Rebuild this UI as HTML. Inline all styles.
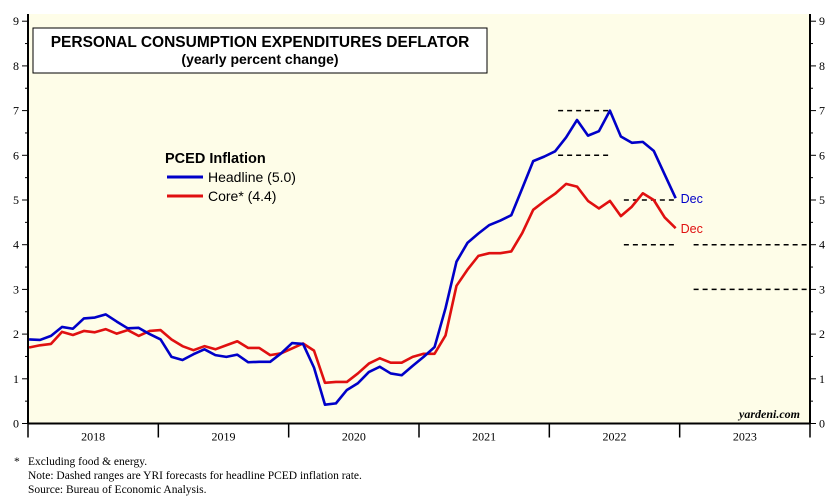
<!DOCTYPE html>
<html><head><meta charset="utf-8"><style>
body{margin:0;background:#fff;font-family:"Liberation Serif",serif}
svg{display:block}
</style></head><body>
<svg id="chart" width="837" height="504" viewBox="0 0 837 504">
<rect x="28" y="14" width="782" height="410" fill="#fefde8"/>
<g id="axes"></g>
<g id="series"></g>
<rect x="33" y="28" width="454" height="45" fill="#fff" stroke="#000" stroke-width="1"/>
<text x="260" y="47" text-anchor="middle" font-family="Liberation Sans" font-weight="bold" font-size="15.5">PERSONAL CONSUMPTION EXPENDITURES DEFLATOR</text>
<text x="260" y="64" text-anchor="middle" font-family="Liberation Sans" font-weight="bold" font-size="14">(yearly percent change)</text>
<text x="165" y="163" font-family="Liberation Sans" font-weight="bold" font-size="14.5">PCED Inflation</text>
<line x1="167" y1="177" x2="203" y2="177" stroke="#0000c8" stroke-width="3"/>
<text x="208" y="182" font-family="Liberation Sans" font-size="14">Headline (5.0)</text>
<line x1="167" y1="196" x2="203" y2="196" stroke="#e01010" stroke-width="3"/>
<text x="208" y="201" font-family="Liberation Sans" font-size="14">Core* (4.4)</text>
<text x="800" y="418" text-anchor="end" font-style="italic" font-weight="bold" font-size="12">yardeni.com</text>
<text x="14" y="465" font-size="11.5">*</text>
<text x="28" y="465" font-size="11.5">Excluding food &amp; energy.</text>
<text x="28" y="479" font-size="11.5">Note: Dashed ranges are YRI forecasts for headline PCED inflation rate.</text>
<text x="28" y="493" font-size="11.5">Source: Bureau of Economic Analysis.</text>
</svg>
<script>
const years=["2018","2019","2020","2021","2022","2023"];
const yTicks=[0,1,2,3,4,5,6,7,8,9];
const headline=[1.88,1.87,1.96,2.16,2.12,2.35,2.37,2.44,2.28,2.13,2.14,2.0,
1.88,1.49,1.42,1.55,1.66,1.53,1.49,1.54,1.37,1.38,1.38,1.57,
1.8,1.78,1.25,0.42,0.45,0.75,0.9,1.15,1.27,1.12,1.08,1.29,
1.49,1.71,2.58,3.62,4.04,4.25,4.44,4.54,4.66,5.26,5.87,5.97,
6.09,6.4,6.79,6.44,6.54,7.0,6.42,6.28,6.3,6.1,5.57,5.04];
const core=[1.70,1.75,1.78,2.05,1.98,2.07,2.04,2.11,2.01,2.09,1.96,2.07,
2.09,1.88,1.73,1.64,1.73,1.66,1.75,1.84,1.69,1.69,1.53,1.57,
1.68,1.79,1.63,0.91,0.93,0.93,1.12,1.34,1.46,1.36,1.36,1.49,
1.56,1.56,1.97,3.08,3.44,3.75,3.81,3.81,3.85,4.26,4.78,4.97,
5.14,5.36,5.3,4.98,4.81,4.98,4.64,4.85,5.15,5.0,4.61,4.37];
// forecast ranges: [startMonth, endMonth, value]
const fcStart=[48,48,54,54,60,60];
const fcEnd=[53,53,59,59,71,71];
const fcValue=[7,6,5,4,4,3];
const NS="http://www.w3.org/2000/svg";
const X0=28,X1=810,Y0=423.5,YU=44.7;
const yearW=(X1-X0)/years.length, mW=yearW/12;
const xm=i=>X0+0.1*mW+i*mW*1.009;
const xy=v=>Y0-v*YU;
function mk(t,a,p){const e=document.createElementNS(NS,t);for(const k in a)e.setAttribute(k,a[k]);p.appendChild(e);return e;}
const ax=document.getElementById('axes'),sr=document.getElementById('series');
let e=mk('line',{x1:X0,y1:14,x2:X0,y2:Y0,stroke:'#000','stroke-width':2},ax);


e=mk('line',{x1:X1,y1:14,x2:X1,y2:Y0,stroke:'#000','stroke-width':2},ax);


e=mk('line',{x1:X0,y1:Y0,x2:X1,y2:Y0,stroke:'#000','stroke-width':2},ax);


yTicks.forEach(v=>{
  const y=xy(v);
  mk('line',{x1:X0-6,y1:y,x2:X0,y2:y,stroke:'#000'},ax);
  mk('line',{x1:X1,y1:y,x2:X1+6,y2:y,stroke:'#000'},ax);
  if(v<9){mk('line',{x1:X0-3,y1:y-YU/2,x2:X0,y2:y-YU/2,stroke:'#000'},ax);mk('line',{x1:X1,y1:y-YU/2,x2:X1+3,y2:y-YU/2,stroke:'#000'},ax);}
  let t=mk('text',{x:X0-9,y:y+4,'text-anchor':'end','font-size':12},ax);t.textContent=v;
  
  
  t=mk('text',{x:X1+9,y:y+4,'font-size':12},ax);t.textContent=v;
  
  
});
for(let i=0;i<=years.length;i++){const x=X0+i*yearW;mk('line',{x1:x,y1:Y0,x2:x,y2:Y0+14,stroke:'#000','stroke-width':1.5},ax);}
years.forEach((yr,i)=>{const t=mk('text',{x:X0+(i+0.5)*yearW,y:Y0+17,'text-anchor':'middle','font-size':12},ax);t.textContent=yr;
  
  });
fcValue.forEach((v,i)=>{const off=fcStart[i]>=60?7:3;const l=mk('line',{x1:xm(fcStart[i])+off,y1:xy(v),x2:Math.min(xm(fcEnd[i])+2,X1),y2:xy(v),stroke:'#000','stroke-width':1.5,'stroke-dasharray':'5,4'},sr);
  
  });
function line(d,c,n){const p=mk('polyline',{points:d.map((v,i)=>xm(i)+','+xy(v)).join(' '),fill:'none',stroke:c,'stroke-width':2.6,'stroke-linejoin':'round'},sr);
  
  
  const t=mk('text',{x:xm(d.length-1)+5,y:xy(d[d.length-1])+5,fill:c,'font-family':'Liberation Sans','font-size':12.5},sr);t.textContent='Dec';
  
  }
line(core,'#e01010','core-line');
line(headline,'#0000c8','headline-line');
</script>
</body></html>
